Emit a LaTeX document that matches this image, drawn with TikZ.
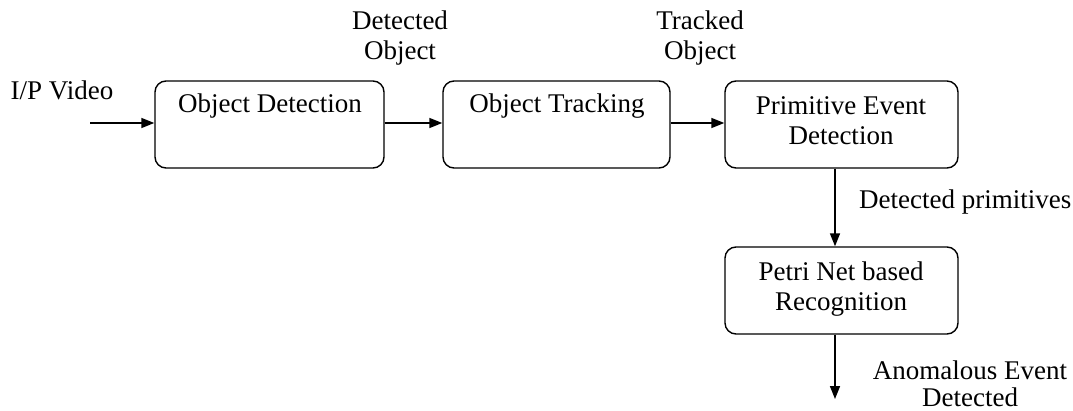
\documentclass[tikz,border=0pt]{standalone}
\usepackage{fontspec}
\setmainfont{Liberation Serif}
\usetikzlibrary{arrows.meta}
\tikzset{
  stagebox/.style={draw, line width=1.4pt, rounded corners=11pt, inner sep=0pt},
  flow/.style={line width=1.6pt, -{Triangle[length=13pt,width=10pt]}},
  txt/.style={inner sep=0pt, align=center, font=\fontsize{27}{30}\selectfont},
}
\begin{document}
\begin{tikzpicture}[x=1pt,y=-1pt]
\useasboundingbox (0,0) rectangle (1073,411);

% processing stages
\node[stagebox, minimum width=229pt, minimum height=87pt] (det)  at (269.5,124.5) {};
\node[stagebox, minimum width=227pt, minimum height=87pt] (trk)  at (556.5,124.5) {};
\node[stagebox, minimum width=233pt, minimum height=87pt] (prim) at (841.5,124.5) {};
\node[stagebox, minimum width=233pt, minimum height=87pt] (petri) at (841.5,290.5) {};

% stage captions
\node[txt] (detT)   at (270,106) {Object Detection};
\node[txt] (trkT)   at (557,106) {Object Tracking};
\node[txt] (primT)  at (841,121) {Primitive Event\\Detection};
\node[txt] (petriT) at (841,289) {Petri Net based\\Recognition};

% free ends and vertical flow line
\coordinate (in)  at (90,123);
\coordinate (vx)  at (835,0);
\coordinate (out) at (835,399);

% connectors
\draw[flow] (in) -- (det.west |- in);
\draw[flow] (det.east |- in) -- (trk.west |- in);
\draw[flow] (trk.east |- in) -- (prim.west |- in);
\draw[flow] (prim.south -| vx) -- (petri.north -| vx);
\draw[flow] (petri.south -| vx) -- (out);

% data labels
\node[txt] (video) at (62,90) {I/P Video};
\node[txt] (detObj) at (400,38) {Detected\\Object};
\node[txt] (trkObj) at (700,38) {Tracked\\Object};
\node[txt, anchor=west] (prims) at (859,202) {Detected primitives};
\node[txt, font=\fontsize{27}{27}\selectfont] (anom) at (970,384) {Anomalous Event\\Detected};
\end{tikzpicture}
\end{document}
